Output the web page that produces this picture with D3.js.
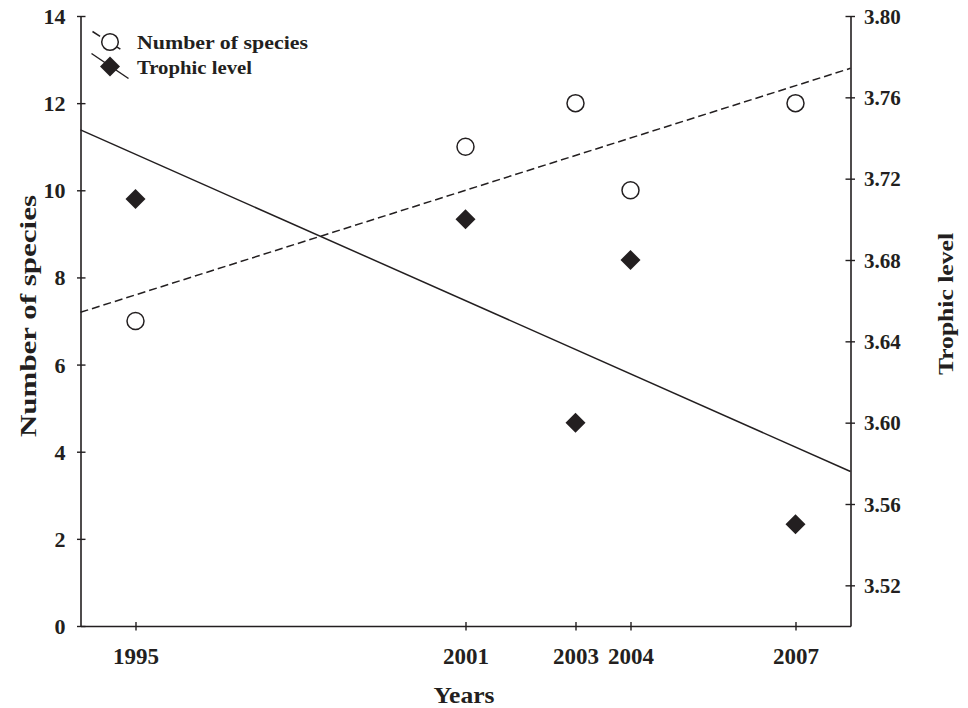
<!DOCTYPE html>
<html>
<head>
<meta charset="utf-8">
<script src="https://cdn.jsdelivr.net/npm/d3@7"></script>
<style>
  html, body { margin: 0; padding: 0; background: #fff; }
  svg { display: block; }
  text { font-family: "Liberation Serif", "Times New Roman", serif; fill: #231f20; font-weight: bold; }
</style>
</head>
<body>
<svg id="chart" width="968" height="708"></svg>
<script>
// ---- data ----
const years = [1995, 2001, 2003, 2004, 2007];
const numberOfSpecies = [7, 11, 12, 10, 12];
const trophicLevel = [3.71, 3.70, 3.60, 3.68, 3.55];
const trendYears = [1994, 2008];
const speciesTrend = [7.2, 12.8];
const trophicTrend = [3.744, 3.576];
const leftTicks = [0, 2, 4, 6, 8, 10, 12, 14];
const rightTicks = [3.52, 3.56, 3.60, 3.64, 3.68, 3.72, 3.76, 3.80];
const legendLabels = ["Number of species", "Trophic level"];

const ink = "#231f20";
const svg = d3.select("#chart");

const x = d3.scaleLinear().domain([1994, 2008]).range([80.5, 850.5]);
const yL = d3.scaleLinear().domain([0, 14]).range([626, 16]);
const yR = d3.scaleLinear().domain([3.50, 3.80]).range([626, 16]);

function styleAxis(g) {
  g.select(".domain").attr("stroke", ink).attr("stroke-width", 1.6);
  g.selectAll(".tick line").attr("stroke", ink).attr("stroke-width", 1.4);
}

// left axis
const gL = svg.append("g").attr("transform", "translate(80.5,0)")
  .call(d3.axisLeft(yL).tickValues(leftTicks).tickSizeOuter(0).tickSize(0).tickPadding(15));
styleAxis(gL);
gL.selectAll(".tick line").attr("x1", -3.5).attr("x2", 5);
gL.selectAll(".tick text").attr("font-size", 22).attr("font-family", null).attr("dy", "0.34em");

// right axis
const gR = svg.append("g").attr("transform", "translate(850.5,0)")
  .call(d3.axisRight(yR).tickValues(rightTicks).tickFormat(d3.format(".2f")).tickSizeOuter(0).tickSize(0).tickPadding(13.5));
styleAxis(gR);
gR.selectAll(".tick line").attr("x1", -5).attr("x2", 4.5);
gR.selectAll(".tick text").attr("font-size", 21).attr("font-family", null).attr("dy", "0.34em");

// bottom axis
const gB = svg.append("g").attr("transform", "translate(0,626)")
  .call(d3.axisBottom(x).tickValues(years).tickFormat(d3.format("d")).tickSizeOuter(0).tickSize(0));
styleAxis(gB);
gB.selectAll(".tick line").attr("y1", -4).attr("y2", 4.5);
gB.selectAll(".tick text").attr("font-size", 24).attr("font-family", null)
  .attr("y", 38).attr("dy", 0).attr("textLength", 46).attr("lengthAdjust", "spacingAndGlyphs");

// axis titles
svg.append("text").attr("x", 464).attr("y", 703).attr("text-anchor", "middle")
  .attr("font-size", 23).attr("textLength", 61).attr("lengthAdjust", "spacingAndGlyphs").text("Years");
svg.append("text").attr("transform", "translate(36,316) rotate(-90)").attr("text-anchor", "middle")
  .attr("font-size", 23).attr("textLength", 242).attr("lengthAdjust", "spacingAndGlyphs").text("Number of species");
svg.append("text").attr("transform", "translate(953,304) rotate(-90)").attr("text-anchor", "middle")
  .attr("font-size", 22).attr("textLength", 142).attr("lengthAdjust", "spacingAndGlyphs").text("Trophic level");

// trend lines
const plot = svg.append("g");
plot.append("line")
  .attr("x1", x(trendYears[0])).attr("y1", yL(speciesTrend[0]))
  .attr("x2", x(trendYears[1])).attr("y2", yL(speciesTrend[1]))
  .attr("stroke", ink).attr("stroke-width", 1.5).attr("stroke-dasharray", "8,4");
plot.append("line")
  .attr("x1", x(trendYears[0])).attr("y1", yR(trophicTrend[0]))
  .attr("x2", x(trendYears[1])).attr("y2", yR(trophicTrend[1]))
  .attr("stroke", ink).attr("stroke-width", 1.5);

// points
const diamond = d3.symbol().type(d3.symbolSquare).size(200);
plot.selectAll("circle.sp").data(years).join("circle").attr("class", "sp")
  .attr("cx", d => x(d)).attr("cy", (d, i) => yL(numberOfSpecies[i])).attr("r", 8.5)
  .attr("fill", "#fff").attr("stroke", ink).attr("stroke-width", 1.5);
plot.selectAll("path.tl").data(years).join("path").attr("class", "tl")
  .attr("d", diamond)
  .attr("transform", (d, i) => `translate(${x(d)},${yR(trophicLevel[i])}) rotate(45)`)
  .attr("fill", ink);

// legend
const lg = svg.append("g");
lg.append("line").attr("x1", 92.5).attr("y1", 31.5).attr("x2", 128).attr("y2", 54)
  .attr("stroke", ink).attr("stroke-width", 1.5).attr("stroke-dasharray", "9,15");
lg.append("circle").attr("cx", 110).attr("cy", 42).attr("r", 8.3)
  .attr("fill", "#fff").attr("stroke", ink).attr("stroke-width", 1.5);
lg.append("line").attr("x1", 91.5).attr("y1", 53.5).attr("x2", 128.5).attr("y2", 78.5)
  .attr("stroke", ink).attr("stroke-width", 1.5);
lg.append("path").attr("d", diamond).attr("transform", "translate(110,66.5) rotate(45)").attr("fill", ink);
lg.append("text").attr("x", 137).attr("y", 48.5).attr("font-size", 18)
  .attr("textLength", 171).attr("lengthAdjust", "spacingAndGlyphs").text(legendLabels[0]);
lg.append("text").attr("x", 137).attr("y", 73.5).attr("font-size", 18)
  .attr("textLength", 115).attr("lengthAdjust", "spacingAndGlyphs").text(legendLabels[1]);
</script>
</body>
</html>
